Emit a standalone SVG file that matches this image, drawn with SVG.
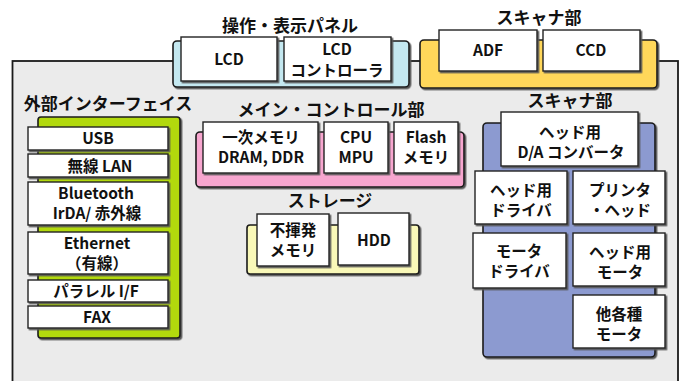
<svg xmlns="http://www.w3.org/2000/svg" width="683" height="381" viewBox="0 0 683 381">
<defs>
<filter id="sh" x="-5%" y="-5%" width="115%" height="120%">
<feDropShadow dx="1.5" dy="1.5" stdDeviation="0" flood-color="#555" flood-opacity="1"/>
</filter>
<style>
.grp{stroke:#1a1a1a;stroke-width:1.6;filter:url(#sh)}
.box{fill:#fff;stroke:#222;stroke-width:1.4;filter:url(#sh)}
text{font-family:"Noto Sans CJK JP","Liberation Sans",sans-serif;font-weight:bold;fill:#111;text-anchor:middle}
.t{font-size:15.5px}
.lbl{font-size:17px}
</style>
</defs>
<rect width="683" height="381" fill="#fff"/>
<g id="panel">
<rect x="12.5" y="61" width="665.5" height="330" fill="#ebebeb" stroke="#1a1a1a" stroke-width="1.8"/>
</g>
<g id="connectors"></g>

<g id="panel-ops">
<text class="lbl" x="290" y="32">操作・表示パネル</text>
<rect class="grp" x="173" y="41" width="236" height="46" rx="4" fill="#c4e8f0"/>
<g id="lcd"><rect class="box" x="181" y="37" width="96" height="44"/><text class="t" x="229" y="65">LCD</text></g>
<g id="lcd-ctrl"><rect class="box" x="284" y="37" width="107" height="44"/><text class="t" x="337" y="55">LCD</text><text class="t" x="337" y="76">コントローラ</text></g>
</g>

<g id="scanner-top">
<text class="lbl" x="539" y="24">スキャナ部</text>
<rect class="grp" x="420" y="40" width="237" height="48" rx="4" fill="#ffd75a"/>
<g id="adf"><rect class="box" x="439" y="30" width="98" height="41"/><text class="t" x="488" y="56">ADF</text></g>
<g id="ccd"><rect class="box" x="543" y="30" width="97" height="41"/><text class="t" x="591" y="56">CCD</text></g>
</g>

<g id="ext-if">
<text class="lbl" x="108" y="110">外部インターフェイス</text>
<rect class="grp" x="38" y="117" width="142" height="221" rx="3" fill="#b2d90c"/>
<g id="usb"><rect class="box" x="28" y="127" width="140" height="23"/><text class="t" x="98" y="144">USB</text></g>
<g id="wlan"><rect class="box" x="28" y="154" width="140" height="23"/><text class="t" x="100" y="172">無線 LAN</text></g>
<g id="bt"><rect class="box" x="28" y="182" width="140" height="43"/><text class="t" x="96" y="199">Bluetooth</text><text class="t" x="97" y="219">IrDA/ 赤外線</text></g>
<g id="eth"><rect class="box" x="28" y="232" width="140" height="42"/><text class="t" x="97" y="249">Ethernet</text><text class="t" x="97" y="269">（有線）</text></g>
<g id="par"><rect class="box" x="28" y="280" width="140" height="22"/><text class="t" x="96" y="297">パラレル I/F</text></g>
<g id="fax"><rect class="box" x="28" y="306" width="140" height="22"/><text class="t" x="97" y="323">FAX</text></g>
</g>

<g id="main-ctrl">
<text class="lbl" x="331" y="116">メイン・コントロール部</text>
<rect class="grp" x="196" y="132" width="268" height="55" rx="4" fill="#f7a6cf"/>
<g id="mem1"><rect class="box" x="203" y="122" width="115" height="51"/><text class="t" x="261" y="143">一次メモリ</text><text class="t" x="261" y="163">DRAM, DDR</text></g>
<g id="cpu"><rect class="box" x="324" y="122" width="64" height="51"/><text class="t" x="356" y="143">CPU</text><text class="t" x="356" y="163">MPU</text></g>
<g id="flash"><rect class="box" x="394" y="122" width="64" height="51"/><text class="t" x="426" y="143">Flash</text><text class="t" x="426" y="163">メモリ</text></g>
</g>

<g id="storage">
<text class="lbl" x="330" y="207">ストレージ</text>
<rect class="grp" x="247" y="225" width="172" height="49" rx="3" fill="#f9f8b8"/>
<g id="nvm"><rect class="box" x="257" y="214" width="72" height="52"/><text class="t" x="293" y="236">不揮発</text><text class="t" x="293" y="256">メモリ</text></g>
<g id="hdd"><rect class="box" x="338" y="213" width="71" height="52"/><text class="t" x="374" y="246">HDD</text></g>
</g>

<g id="scanner-right">
<text class="lbl" x="570" y="107">スキャナ部</text>
<rect class="grp" x="483" y="123" width="172" height="234" rx="4" fill="#8c9ad0"/>
<g id="dac"><rect class="box" x="501" y="112" width="137" height="54"/><text class="t" x="570" y="138">ヘッド用</text><text class="t" x="571" y="158">D/A コンバータ</text></g>
<g id="hdrv"><rect class="box" x="475" y="171" width="92" height="53"/><text class="t" x="521" y="196">ヘッド用</text><text class="t" x="521" y="216">ドライバ</text></g>
<g id="phead"><rect class="box" x="573" y="171" width="92" height="53"/><text class="t" x="620" y="196">プリンタ</text><text class="t" x="620" y="216">・ヘッド</text></g>
<g id="mdrv"><rect class="box" x="473" y="233" width="93" height="55"/><text class="t" x="519" y="257">モータ</text><text class="t" x="519" y="277">ドライバ</text></g>
<g id="hmot"><rect class="box" x="573" y="233" width="92" height="53"/><text class="t" x="620" y="258">ヘッド用</text><text class="t" x="620" y="278">モータ</text></g>
<g id="omot"><rect class="box" x="573" y="295" width="92" height="53"/><text class="t" x="619" y="320">他各種</text><text class="t" x="619" y="340">モータ</text></g>
</g>
</svg>
